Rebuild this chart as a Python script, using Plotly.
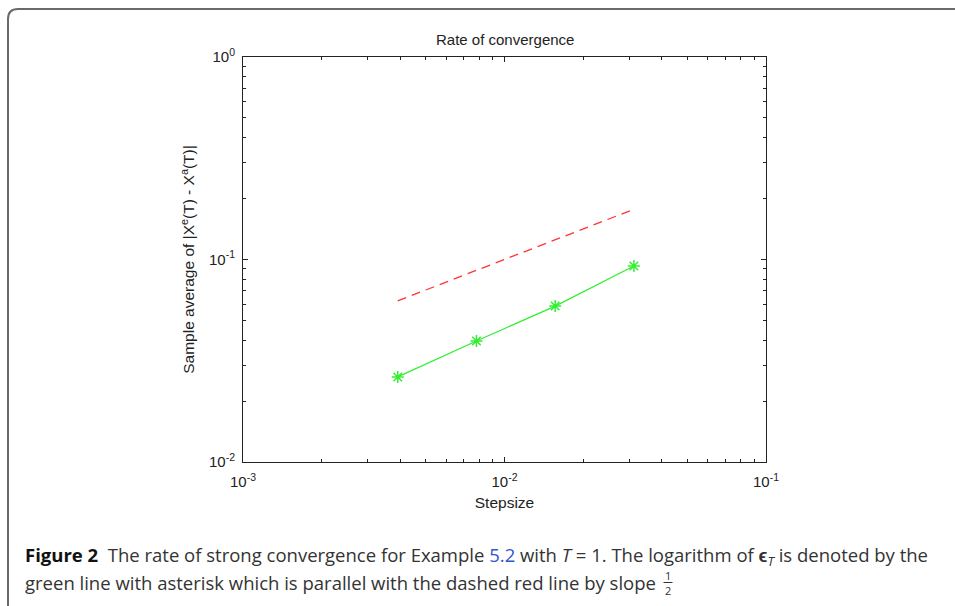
import plotly.graph_objects as go

# ---- data ----
stepsize = [1/256, 1/128, 1/64, 1/32]
error_avg = [0.0263, 0.0396, 0.0589, 0.0929]
ref_slope_half = [0.0625, 0.0884, 0.125, 0.177]

x_tickvals = [1e-3, 1e-2, 1e-1]
x_ticktext = ["10<sup>-3</sup>", "10<sup>-2</sup>", "10<sup>-1</sup>"]
y_tickvals = [1e-2, 1e-1, 1e0]
y_ticktext = ["10<sup>-2</sup>", "10<sup>-1</sup>", "10<sup>0</sup>"]

title_text = "Rate of convergence"
x_title = "Stepsize"
y_title = "Sample average of |X<sup>e</sup>(T) - X<sup>a</sup>(T)|"

W, H = 955, 606
L, R, T, B = 243, 766, 57, 462  # plot area pixel box

def px(x):
    return (x - L) / (R - L)

def py(y):
    return (B - y) / (B - T)

fig = go.Figure()
fig.add_trace(go.Scatter(x=stepsize, y=ref_slope_half, mode="lines",
                         line=dict(color="#ff3333", width=1.3, dash="9px,6px"),
                         showlegend=False))
fig.add_trace(go.Scatter(x=stepsize, y=error_avg, mode="lines+markers",
                         line=dict(color="#33ee33", width=1.3),
                         marker=dict(symbol="asterisk-open", size=10,
                                     line=dict(color="#00ee00", width=1.5)),
                         showlegend=False))

tick_font = dict(family="Liberation Sans, Arial, sans-serif", size=15, color="#222")
lab_font = dict(family="Liberation Sans, Arial, sans-serif", size=15.5, color="#222")
common = dict(type="log", showgrid=False, zeroline=False, showline=True,
              linecolor="#222", linewidth=1, mirror="allticks", ticks="inside",
              ticklen=5, tickcolor="#222", tickfont=tick_font,
              minor=dict(ticks="inside", ticklen=3, tickcolor="#222", dtick="D1",
                         showgrid=False))

fig.update_xaxes(range=[-3, -1], tickvals=x_tickvals, ticktext=x_ticktext,
                 ticklabelstandoff=6,
                 title=dict(text=x_title, font=lab_font, standoff=8), **common)
fig.update_yaxes(range=[-2, 0], tickvals=y_tickvals, ticktext=y_ticktext,
                 ticklabelstandoff=4,
                 title=dict(text=y_title, font=lab_font, standoff=10), **common)

cap_font = dict(family="Open Sans, sans-serif", size=18.5, color="#333")
frac_font = dict(family="Open Sans, sans-serif", size=11, color="#333")
line1 = ("<b style='color:#111'>Figure 2</b>  The rate of strong convergence for Example "
         "<span style='color:#3355cc'>5.2</span> with <i>T</i> = 1. The logarithm of "
         "<b>ϵ</b><sub><i>T</i></sub> is denoted by the")
line2 = "green line with asterisk which is parallel with the dashed red line by slope"
frac_num, frac_den = "1", "2"

FX = 668  # fraction centre (px)
annotations = [
    dict(text=title_text, x=0.5, y=py(40), xref="paper", yref="paper",
         showarrow=False, font=dict(family="Liberation Sans, Arial, sans-serif", size=15, color="#222"),
         xanchor="center", yanchor="middle"),
    dict(text=line1, x=px(23), y=py(556), xref="paper", yref="paper", showarrow=False,
         font=cap_font, xanchor="left", yanchor="middle", align="left"),
    dict(text=line2, x=px(23), y=py(582), xref="paper", yref="paper", showarrow=False,
         font=cap_font, xanchor="left", yanchor="middle", align="left"),
    dict(text=frac_num, x=px(FX), y=py(575), xref="paper", yref="paper", showarrow=False,
         font=frac_font, xanchor="center", yanchor="middle"),
    dict(text=frac_den, x=px(FX), y=py(590), xref="paper", yref="paper", showarrow=False,
         font=frac_font, xanchor="center", yanchor="middle"),
]

# rounded frame (top-left corner) around figure panel
fl, ft, fr, fb = px(8), py(9), px(965), py(620)
rx, ry = 10 / (R - L), 10 / (B - T)
frame_path = (f"M {fl},{fb} L {fl},{ft - ry} Q {fl},{ft} {fl + rx},{ft} L {fr},{ft}")

fig.update_layout(
    width=W, height=H, autosize=False,
    margin=dict(l=L, r=W - R, t=T, b=H - B),
    paper_bgcolor="white", plot_bgcolor="white",
    annotations=annotations,
    shapes=[
        dict(type="path", path=frame_path, xref="paper", yref="paper",
             line=dict(color="#6a6a6a", width=2)),
        dict(type="line", x0=px(FX - 4.5), x1=px(FX + 4.5), y0=py(582.5), y1=py(582.5),
             xref="paper", yref="paper", line=dict(color="#333", width=1)),
    ],
)

fig.write_html("out.html", config={"displayModeBar": False},
               post_script="document.body.style.margin='0';document.body.style.overflow='hidden';")
